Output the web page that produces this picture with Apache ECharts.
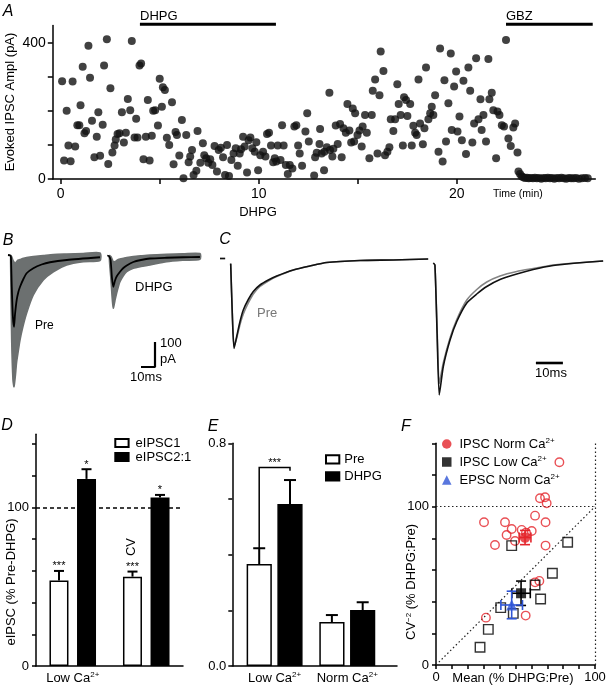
<!DOCTYPE html>
<html><head><meta charset="utf-8">
<script src="https://cdn.jsdelivr.net/npm/echarts@6/dist/echarts.min.js"></script>
<style>html,body{margin:0;padding:0;background:#fff}#c{width:607px;height:690px}</style>
</head><body><div id="c"></div>
<script>
const FONT = '"Liberation Sans", Arial, Helvetica, sans-serif';

// ---------- Panel A: evoked IPSC amplitude over time ----------
const aTime = [
 0.07,0.17,0.30,0.39,0.50,0.60,0.73,0.84,0.94,1.00,
 1.11,1.20,1.28,1.40,1.48,1.58,1.70,1.82,1.90,1.99,
 2.12,2.19,2.33,2.40,2.51,2.61,2.72,2.78,2.87,2.97,
 3.09,3.19,3.29,3.39,3.51,3.59,3.73,3.81,3.88,3.98,
 4.06,4.18,4.30,4.40,4.49,4.60,4.67,4.77,4.91,5.00,
 5.11,5.16,5.26,5.36,5.48,5.62,5.70,5.80,5.87,5.99,
 6.12,6.20,6.34,6.46,6.54,6.63,6.71,6.85,6.91,7.05,
 7.18,7.25,7.35,7.45,7.55,7.66,7.77,7.89,7.98,8.09,
 8.20,8.30,8.40,8.50,8.62,8.73,8.84,8.94,9.04,9.11,
 9.21,9.29,9.41,9.49,9.58,9.68,9.80,9.88,9.97,10.08,
 10.22,10.34,10.42,10.52,10.62,10.73,10.81,10.89,10.96,11.10,
 11.18,11.26,11.37,11.47,11.57,11.70,11.80,11.90,11.99,12.07,
 12.19,12.36,12.45,12.53,12.80,12.85,12.93,13.07,13.10,13.18,
 13.30,13.32,13.44,13.57,13.60,13.72,13.77,13.89,13.99,14.11,
 14.19,14.28,14.40,14.48,14.58,14.67,14.75,14.82,14.87,14.99,
 15.09,15.20,15.25,15.37,15.46,15.59,15.71,15.76,15.88,16.00,
 16.10,16.16,16.30,16.38,16.50,16.60,16.67,16.80,16.89,17.00,
 17.07,17.17,17.28,17.34,17.44,17.51,17.65,17.73,17.81,17.90,
 17.98,18.07,18.15,18.29,18.37,18.45,18.57,18.66,18.74,18.82,
 18.91,19.08,19.16,19.29,19.38,19.46,19.58,19.70,19.75,19.87,
 19.97,20.04,20.14,20.26,20.34,20.47,20.59,20.68,20.79,20.88,
 20.98,21.10,21.20,21.26,21.35,21.48,21.60,21.65,21.77,21.85,
 21.99,22.06,22.16,22.28,22.39,22.49,22.61,22.73,22.86,22.95,
 23.07,23.12,23.20,23.28,23.36,23.45,23.55,23.64,23.74,23.85,
 23.95,24.05,24.16,24.27,24.38,24.49,24.60,24.71,24.82,24.93,
 25.05,25.17,25.29,25.41,25.53,25.66,25.78,25.90,26.03,26.17,
 26.32,26.48,26.62];
const aAmp = [
 287,54,200,98,52,286,95,158,158,216,
 329,134,141,391,297,171,64,124,196,68,
 159,333,410,44,266,78,98,116,132,134,
 196,107,136,235,202,405,122,177,122,333,
 339,58,124,232,54,127,200,202,157,294,
 212,269,261,121,100,225,43,138,129,69,
 173,2,129,49,66,85,12,24,141,48,
 105,70,61,48,58,41,97,22,85,92,
 64,12,100,9,56,75,90,39,75,87,
 124,95,19,114,122,90,80,108,26,70,
 80,66,132,136,98,49,61,51,98,56,
 158,98,41,15,41,31,154,158,98,75,
 39,139,193,110,10,64,77,103,147,75,
 26,80,93,253,85,66,89,157,103,161,
 64,149,136,220,142,107,207,110,193,129,
 142,95,154,188,136,61,188,259,292,75,
 246,374,317,70,80,93,175,141,175,278,
 220,188,98,240,232,185,220,98,156,136,
 129,292,163,102,149,327,175,193,212,188,
 246,80,383,51,290,110,222,368,144,271,
 315,139,183,114,288,73,327,259,107,163,
 354,175,234,144,188,110,352,234,253,202,
 61,198,188,158,154,408,119,97,151,163,
 78,22,15,8,5,3,4,2,3,2,
 4,2,3,1,3,2,4,2,3,1,
 3,2,4,2,1,3,2,2,3,1,
 2,3,2];
const aTicksX = [0,5,10,15,20];
const aLabelsX = [0,10,20];
const aTicksY = [0,100,200,300,400];
const aLabelsY = [0,400];
const dhpgPeriod = [4.0, 10.87];
const gbzPeriod = [22.49, 26.87];

// ---------- Panel B: traces (ms, pA) ----------
const bPreEnvT  = [1.9, 2.6, 3.5, 4.3, 5.2, 6.2, 7.4, 8.6, 10.4, 13.3, 18.1, 25.2, 32.4, 41.9, 53.8, 65.7];
const bPreLow   = [-50, -330, -490, -519, -480, -420, -375, -332, -285, -225, -152, -92, -59, -32, -19, -14];
const bPreHigh  = [6, 2, -12, -20, -25, -18, -12, -10, -6, -2, 2, 6, 10, 12, 14, 16];
const bPreMeanT = [0, 1.6, 2.1, 2.7, 3.5, 4.3, 5.0, 6.2, 7.4, 8.6, 11.0, 13.3, 18.1, 24, 30, 42, 65.7];
const bPreMean  = [8, 6, 0, -120, -240, -279, -230, -172, -140, -119, -88, -65, -45, -30, -21, -12, -1];
const bDhpgEnvT  = [72.5, 73.5, 74.5, 75.2, 76.4, 77.6, 78.8, 80, 82.4, 84.8, 89.5, 95, 101.4, 113.3, 125, 137.1];
const bDhpgLow   = [-20, -90, -172, -205, -175, -145, -120, -99, -75, -59, -45, -38, -32, -19, -13, -9];
const bDhpgHigh  = [6, 2, -10, -18, -18, -14, -10, -8, -5, -2, 2, 5, 8, 11, 13, 14];
const bDhpgMeanT = [70.9, 72.2, 73.3, 74.2, 75.2, 76.4, 77.6, 80, 82.4, 84.8, 89.5, 95, 101.4, 113.3, 125, 137.1];
const bDhpgMean  = [6, 3, -13, -80, -119, -95, -78, -59, -44, -34, -20, -12, -6, -3, -1, 0];
const bScale = [10, 100]; // ms, pA

// ---------- Panel C: scaled traces ----------
const c1T    = [0, 1.9, 3.0, 3.96, 4.6, 5.19, 6.19, 7.41, 8.63, 10.48, 12.33, 14.81, 17.89, 21, 27.15, 33.3, 39.5, 51.85, 64.2, 77.1];
const c1Dhpg = [-1, -1, '-', -12, -120, -181, -157, -127, -104, -83, -67, -54, -44, -36, -24, -16, -9, -5, -4, -2];
const c1Pre  = [-1, -1, '-', -10, -115, -177, -160, -133, -112, -90, -72, -57, -46, -37, -24, -16, -9, -5, -4, -2];
const c2T    = [79, 79.6, 80.4, 81.2, 82.7, 85.2, 87.7, 91.4, 95.1, 98.8, 103.7, 109.9, 116, 123.4, 132.1, 141.9];
const c2Dhpg = [-10, -14, -150, -274, -217, -164, -127, -90, -72, -57, -43, -32, -23, -15, -10, -6];
const c2Pre  = [-10, -14, -140, -251, -210, -160, -123, -84, -63, -48, -36, -27, -21, -14, -10, -6];
const cScale = [10]; // ms

// ---------- Panel D ----------
const dCats = ['Low Ca2+', 'Norm Ca2+'];
const dIpsc1 = [53.8, 56.3];
const dIpsc1Sem = [6.1, 3.2];
const dIpsc1Sig = ['***', '***'];
const dIpsc21 = [117.9, 106.1];
const dIpsc21Sem = [6.1, 1.7];
const dIpsc21Sig = ['*', '*'];
const dRef = 100;
const dTicksY = [0,20,40,60,80,100,120,140];
const dLabelsY = [0,100];

// ---------- Panel E ----------
const eCats = ['Low Ca2+', 'Norm Ca2+'];
const ePre = [0.366, 0.158];
const ePreSem = [0.057, 0.025];
const eDhpg = [0.582, 0.201];
const eDhpgSem = [0.086, 0.028];
const eBracket = [0.713, 0.701];
const eSig = '***';
const eTicksY = [0,0.2,0.4,0.6,0.8];
const eLabelsY = [0,0.8];

// ---------- Panel F ----------
const fRedX = [77.6, 30.2, 43.4, 47.6, 44.4, 49.7, 37.1, 53.9, 56.6, 60.2, 62.3, 65.4, 68.6, 69.6, 68.9, 68.9, 62.3, 65.0, 31.4, 56.4];
const fRedY = [128, 90.1, 90.1, 85.9, 82.1, 78.3, 75.8, 85.3, 83.6, 84.6, 94.3, 105.3, 105.9, 102.1, 90.1, 75.4, 52.2, 53.1, 29.9, 31.2];
const fBlkX = [47.6, 82.8, 73.2, 62.3, 65.8, 40.7, 48.6, 32.9, 27.7];
const fBlkY = [75.4, 77.5, 57.9, 50.5, 41.7, 36.2, 32.6, 22.5, 11.2];
const fRedMean = [56.0, 80.5], fRedSem = [3.7, 4.5];
const fBlkMean = [53.5, 45.3], fBlkSem = [5.8, 7.7];
const fBluMean = [47.6, 37.9], fBluSem = [6.8, 8.7];
const fRef = 100;
const fTicksX = [0,10,20,30,40,50,60,70,80,90,100];
const fLabelsX = [0,100];
const fTicksY = [0,20,40,60,80,100,120,140];
const fLabelsY = [0,100];

// ---------- helpers ----------
const RED = '#e3242b', BLUE = '#2f55d6', GRAYB = '#6c7070', GRAYC = '#858585';
const RICH = {sup: {fontSize: 8, lineHeight: 8, verticalAlign: 'top', fontFamily: FONT, color: '#000'}};
const fmtCa = s => s.replace('2+', '{sup|2+}');
const AL = {show: true, onZero: false, lineStyle: {color: '#000', width: 1.5}};
function tick(vals, len) { return {show: true, length: len || 5, customValues: vals, lineStyle: {color: '#000', width: 1.5}}; }
function lab(vals, size, margin, fmt) {
  const o = {show: true, customValues: vals, color: '#000', fontSize: size, fontFamily: FONT, margin: margin};
  if (fmt) o.formatter = fmt;
  return o;
}
const zip = (xs, ys) => xs.map((x, i) => [x, ys[i]]);

function envelope(T, low, high, color) {
  return {
    type: 'custom', xAxisIndex: 1, yAxisIndex: 1, z: 2, silent: true,
    data: T.map((t, i) => [t, low[i], high[i]]),
    renderItem: (params, api) => {
      if (params.dataIndex !== 0) return null;
      const pts = [];
      for (let i = 0; i < T.length; i++) pts.push(api.coord([T[i], low[i]]));
      for (let i = T.length - 1; i >= 0; i--) pts.push(api.coord([T[i], high[i]]));
      return {type: 'polygon', shape: {points: pts, smooth: 0.25}, style: {fill: color, stroke: color, lineWidth: 1.5}};
    }
  };
}
function trace(ax, T, V, color, w, z) {
  return {type: 'line', xAxisIndex: ax, yAxisIndex: ax, data: zip(T, V), symbol: 'none', smooth: 0.2,
    connectNulls: false, lineStyle: {color: color, width: w}, z: z || 3, silent: true};
}
function barErr(ax, means, sems, sig, offset, capW) {
  return {
    type: 'custom', xAxisIndex: ax, yAxisIndex: ax, z: 5, silent: true,
    data: means.map((m, i) => [i, m, m + sems[i]]),
    renderItem: (params, api) => {
      const i = params.dataIndex;
      const b = api.coord([api.value(0), api.value(1)]);
      const t = api.coord([api.value(0), api.value(2)]);
      const x = b[0] + offset;
      const st = {stroke: '#000', lineWidth: 2};
      const ch = [
        {type: 'line', shape: {x1: x, y1: b[1], x2: x, y2: t[1]}, style: st},
        {type: 'line', shape: {x1: x - capW / 2, y1: t[1], x2: x + capW / 2, y2: t[1]}, style: st}
      ];
      if (sig && sig[i]) ch.push({type: 'text', x: x, y: t[1] + 1,
        style: {text: sig[i], align: 'center', verticalAlign: 'bottom', fontSize: 11, fontFamily: FONT, fill: '#000'}});
      return {type: 'group', children: ch};
    }
  };
}
function xyErr(mean, sem, color) {
  return {
    type: 'custom', xAxisIndex: 5, yAxisIndex: 5, z: 5, silent: true,
    data: [[mean[0], mean[1], sem[0], sem[1]]],
    renderItem: (params, api) => {
      const mx = api.value(0), my = api.value(1), ex = api.value(2), ey = api.value(3);
      const l = api.coord([mx - ex, my]), r = api.coord([mx + ex, my]);
      const t = api.coord([mx, my + ey]), b = api.coord([mx, my - ey]);
      const c = 5, st = {stroke: color, lineWidth: 1.6};
      const L = (x1, y1, x2, y2) => ({type: 'line', shape: {x1, y1, x2, y2}, style: st});
      return {type: 'group', children: [
        L(l[0], l[1], r[0], r[1]), L(t[0], t[1], b[0], b[1]),
        L(l[0], l[1] - c, l[0], l[1] + c), L(r[0], r[1] - c, r[0], r[1] + c),
        L(t[0] - c, t[1], t[0] + c, t[1]), L(b[0] - c, b[1], b[0] + c, b[1])]};
    }
  };
}
function txt(text, x, y, o) {
  o = o || {};
  const el = {type: 'text', x: x, y: y, silent: true,
    style: {text: text, fontSize: o.size || 13, fontFamily: FONT, fill: o.fill || '#000',
      align: o.align || 'center', verticalAlign: 'middle', fontStyle: o.italic ? 'italic' : 'normal', rich: RICH}};
  if (o.rot) el.rotation = Math.PI / 2;
  return el;
}

const DRUG_Y = 454;       // vertical placement of drug bars (pA units, above the axis)
const D_OFF = 13.75, E_OFF = 15.4;

const option = {
  animation: false,
  backgroundColor: '#fff',
  grid: [
    {left: 52.8, top: 25.6, width: 542.5, height: 153.4, outerBoundsMode: 'none'},
    {left: 8, top: 242, width: 203, height: 155, outerBoundsMode: 'none'},
    {left: 220, top: 248, width: 386.1, height: 160, outerBoundsMode: 'none'},
    {left: 36, top: 434.3, width: 147, height: 231.7, outerBoundsMode: 'none'},
    {left: 232.3, top: 443.3, width: 164.7, height: 222.7, outerBoundsMode: 'none'},
    {left: 436, top: 443.3, width: 159, height: 221.7, outerBoundsMode: 'none'}
  ],
  xAxis: [
    {gridIndex: 0, type: 'value', min: -0.4, max: 27, axisLine: AL, axisTick: tick(aTicksX), axisLabel: lab(aLabelsX, 14, 8), splitLine: {show: false}},
    {gridIndex: 1, type: 'value', min: 0, max: 145, show: false},
    {gridIndex: 2, type: 'value', min: 0, max: 143, show: false},
    {gridIndex: 3, type: 'category', data: dCats, axisLine: AL, axisTick: {show: false},
      axisLabel: {color: '#000', fontSize: 13, fontFamily: FONT, margin: 5, lineHeight: 14, formatter: fmtCa, rich: RICH}},
    {gridIndex: 4, type: 'value', min: -0.582, max: 1.684, axisLine: AL, axisTick: {show: false}, splitLine: {show: false},
      axisLabel: {customValues: [0, 1], color: '#000', fontSize: 13, fontFamily: FONT, margin: 5, lineHeight: 14,
        formatter: v => fmtCa(eCats[Math.round(v)]), rich: RICH}},
    {gridIndex: 5, type: 'value', min: 0, max: 100, axisLine: AL, axisTick: tick(fTicksX, 4), axisLabel: lab(fLabelsX, 13, 6), splitLine: {show: false}}
  ],
  yAxis: [
    {gridIndex: 0, type: 'value', min: 0, max: 450, axisLine: AL, axisTick: tick(aTicksY, 5), axisLabel: lab(aLabelsY, 14, 7), splitLine: {show: false}},
    {gridIndex: 1, type: 'value', min: -560, max: 60, show: false},
    {gridIndex: 2, type: 'value', min: -300, max: 20, show: false},
    {gridIndex: 3, type: 'value', min: 0, max: 146, axisLine: AL, axisTick: tick(dTicksY, 4), axisLabel: lab(dLabelsY, 13, 7), splitLine: {show: false}},
    {gridIndex: 4, type: 'value', min: 0, max: 0.8, axisLine: AL, axisTick: tick(eTicksY, 4), axisLabel: lab(eLabelsY, 13, 6, v => v.toFixed(1)), splitLine: {show: false}},
    {gridIndex: 5, type: 'value', min: 0, max: 140, axisLine: AL, axisTick: tick(fTicksY, 4), axisLabel: lab(fLabelsY, 13, 7), splitLine: {show: false}}
  ],
  legend: [
    {data: ['eIPSC1', 'eIPSC2:1'], orient: 'vertical', left: 114.3, top: 436, padding: 0, itemGap: 0,
      itemWidth: 13.3, itemHeight: 8, icon: 'rect', selectedMode: false,
      textStyle: {fontSize: 13, fontFamily: FONT, color: '#000', lineHeight: 14, padding: [0, 0, 0, 2]}},
    {data: ['Pre', 'DHPG'], orient: 'vertical', left: 325, top: 452.3, padding: 0, itemGap: 3,
      itemWidth: 13.3, itemHeight: 8.3, icon: 'rect', selectedMode: false,
      textStyle: {fontSize: 13, fontFamily: FONT, color: '#000', lineHeight: 14}},
    {data: ['IPSC Norm Ca2+', 'IPSC Low Ca2+', 'EPSC Norm Ca2+'], orient: 'vertical', left: 442, top: 437, padding: 0, itemGap: 4,
      itemWidth: 9.5, itemHeight: 9.5, selectedMode: false, formatter: fmtCa,
      textStyle: {fontSize: 13, fontFamily: FONT, color: '#000', lineHeight: 14, padding: [0, 0, 0, 3], rich: RICH}}
  ],
  series: [
    // Panel A
    {type: 'scatter', xAxisIndex: 0, yAxisIndex: 0, data: zip(aTime, aAmp), symbolSize: 8,
      itemStyle: {color: '#111'}, silent: true, z: 3},
    {type: 'line', xAxisIndex: 0, yAxisIndex: 0, data: dhpgPeriod.map(t => [t, DRUG_Y]), clip: false,
      symbol: 'none', lineStyle: {color: '#000', width: 3}, silent: true},
    {type: 'line', xAxisIndex: 0, yAxisIndex: 0, data: gbzPeriod.map(t => [t, DRUG_Y]), clip: false,
      symbol: 'none', lineStyle: {color: '#000', width: 3}, silent: true},
    // Panel B
    envelope(bPreEnvT, bPreLow, bPreHigh, GRAYB),
    envelope(bDhpgEnvT, bDhpgLow, bDhpgHigh, GRAYB),
    trace(1, bPreMeanT, bPreMean, '#000', 1.8, 4),
    trace(1, bDhpgMeanT, bDhpgMean, '#000', 1.8, 4),
    {type: 'line', xAxisIndex: 1, yAxisIndex: 1, symbol: 'none', silent: true, clip: false,
      data: [[105, -340], [105, -340 - bScale[1]], [105 - bScale[0], -340 - bScale[1]]],
      lineStyle: {color: '#000', width: 2.2}},
    // Panel C
    trace(2, c1T, c1Pre, GRAYC, 1.6, 3),
    trace(2, c1T, c1Dhpg, '#111', 1.6, 4),
    trace(2, c2T, c2Pre, GRAYC, 1.6, 3),
    trace(2, c2T, c2Dhpg, '#111', 1.6, 4),
    {type: 'line', xAxisIndex: 2, yAxisIndex: 2, symbol: 'none', silent: true, clip: false,
      data: [[117, -210], [117 + cScale[0], -210]], lineStyle: {color: '#000', width: 2.6}},
    // Panel D
    {name: 'eIPSC1', type: 'bar', xAxisIndex: 3, yAxisIndex: 3, data: dIpsc1, barWidth: 19, barGap: '45%',
      itemStyle: {color: '#fff', borderColor: '#000', borderWidth: 1.5}, silent: true,
      markLine: {silent: true, symbol: 'none', label: {show: false}, lineStyle: {color: '#000', type: [4, 3], width: 1.5},
        data: [{yAxis: dRef}]}},
    {name: 'eIPSC2:1', type: 'bar', xAxisIndex: 3, yAxisIndex: 3, data: dIpsc21, barWidth: 19, barGap: '45%',
      itemStyle: {color: '#000', borderColor: '#000', borderWidth: 1.5}, silent: true},
    barErr(3, dIpsc1, dIpsc1Sem, dIpsc1Sig, -D_OFF, 10),
    barErr(3, dIpsc21, dIpsc21Sem, dIpsc21Sig, D_OFF, 10),
    // Panel E
    {name: 'Pre', type: 'bar', xAxisIndex: 4, yAxisIndex: 4, data: zip([0, 1], ePre), barWidth: 25.2, barGap: '22%',
      itemStyle: {color: '#fff', borderColor: '#000', borderWidth: 1.5}, silent: true},
    {name: 'DHPG', type: 'bar', xAxisIndex: 4, yAxisIndex: 4, data: zip([0, 1], eDhpg), barWidth: 25.2, barGap: '22%',
      itemStyle: {color: '#000', borderColor: '#000', borderWidth: 1.5}, silent: true},
    barErr(4, ePre, ePreSem, null, -E_OFF, 12),
    barErr(4, eDhpg, eDhpgSem, null, E_OFF, 12),
    {type: 'custom', xAxisIndex: 4, yAxisIndex: 4, z: 6, silent: true,
      data: [[0, ePre[0] + ePreSem[0], eBracket[0], eBracket[1]]],
      renderItem: (params, api) => {
        const a = api.coord([0, api.value(1)]), top = api.coord([0, api.value(2)]), r = api.coord([0, api.value(3)]);
        const xl = a[0] - E_OFF, xr = a[0] + E_OFF;
        return {type: 'group', children: [
          {type: 'polyline', shape: {points: [[xl, a[1]], [xl, top[1]], [xr, top[1]], [xr, r[1]]]},
            style: {stroke: '#000', lineWidth: 1.5, fill: null}},
          {type: 'text', x: a[0], y: top[1] + 1, style: {text: eSig, align: 'center', verticalAlign: 'bottom',
            fontSize: 11, fontFamily: FONT, fill: '#000'}}
        ]};
      }},
    // Panel F
    {type: 'scatter', xAxisIndex: 5, yAxisIndex: 5, data: zip(fRedX, fRedY), symbol: 'circle', symbolSize: 8.5,
      itemStyle: {color: 'rgba(0,0,0,0)', borderColor: RED, borderWidth: 1.4}, silent: true, z: 3,
      markLine: {silent: true, symbol: 'none', label: {show: false}, z: 1,
        lineStyle: {color: '#222', type: [1.5, 2.5], width: 1.2},
        data: [{yAxis: fRef}, {xAxis: fRef}, [{coord: [0, 0]}, {coord: [fRef, fRef]}]]}},
    {type: 'scatter', xAxisIndex: 5, yAxisIndex: 5, data: zip(fBlkX, fBlkY), symbol: 'rect', symbolSize: 9.5,
      itemStyle: {color: 'rgba(0,0,0,0)', borderColor: '#000', borderWidth: 1.4}, silent: true, z: 3},
    xyErr(fRedMean, fRedSem, RED),
    xyErr(fBlkMean, fBlkSem, '#000'),
    xyErr(fBluMean, fBluSem, BLUE),
    {name: 'IPSC Norm Ca2+', type: 'scatter', xAxisIndex: 5, yAxisIndex: 5, data: [fRedMean], symbol: 'circle',
      symbolSize: 10.5, itemStyle: {color: RED}, silent: true, z: 6},
    {name: 'IPSC Low Ca2+', type: 'scatter', xAxisIndex: 5, yAxisIndex: 5, data: [fBlkMean], symbol: 'rect',
      symbolSize: 10, itemStyle: {color: '#000'}, silent: true, z: 6},
    {name: 'EPSC Norm Ca2+', type: 'scatter', xAxisIndex: 5, yAxisIndex: 5, data: [fBluMean], symbol: 'triangle',
      symbolSize: 11, itemStyle: {color: BLUE}, silent: true, z: 6}
  ],
  graphic: [
    txt('A', 8, 12, {italic: true, size: 16}),
    txt('DHPG', 140, 16, {align: 'left'}),
    txt('GBZ', 506, 16, {align: 'left'}),
    txt('Time (min)', 493, 194, {align: 'left', size: 10.5}),
    txt('DHPG', 258, 212),
    txt('Evoked IPSC Ampl (pA)', 10, 102, {rot: true}),
    txt('B', 8, 241, {italic: true, size: 16}),
    txt('Pre', 35, 326, {align: 'left', size: 12}),
    txt('DHPG', 135, 287, {align: 'left'}),
    txt('100', 160, 343, {align: 'left'}),
    txt('pA', 160, 359, {align: 'left'}),
    txt('10ms', 146, 377),
    txt('C', 225, 240, {italic: true, size: 16}),
    txt('Pre', 257, 313, {align: 'left', fill: '#777'}),
    txt('10ms', 551, 373),
    txt('D', 7, 426, {italic: true, size: 16}),
    txt('eIPSC (% Pre-DHPG)', 11, 582, {rot: true}),
    txt('CV', 131.7, 547, {rot: true}),
    txt('E', 213, 427, {italic: true, size: 16}),
    txt('F', 406, 427, {italic: true, size: 16}),
    txt('CV{sup|\u22122} (% DHPG:Pre)', 411.5, 582, {rot: true}),
    txt('Mean (% DHPG:Pre)', 513, 678)
  ]
};

const chart = echarts.init(document.getElementById('c'), null, {renderer: 'canvas'});
chart.setOption(option);
</script>
</body></html>
